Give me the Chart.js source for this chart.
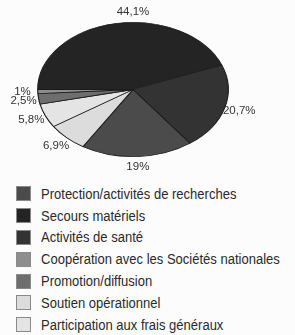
<!DOCTYPE html>
<html>
<head>
<meta charset="utf-8">
<script src="https://cdn.jsdelivr.net/npm/chart.js@4.4.1/dist/chart.umd.min.js"></script>
<style>
  html, body { margin: 0; padding: 0; background: #fcfcfc; }
  body { width: 295px; height: 335px; position: relative; overflow: hidden; }
  #pie { position: absolute; left: 0; top: 0; }
  #legend { position: absolute; left: 16px; top: 183px; margin: 0; padding: 0; list-style: none;
            font-family: "Liberation Sans", Arial, sans-serif;
            font-size: 14px; color: #2a2a2a; }
  #legend li { height: 21.8px; display: flex; align-items: center; white-space: nowrap; }
  #legend .sw { width: 15px; height: 15px; box-sizing: border-box; border: 1px solid #8a8a8a; margin-right: 10px; flex: none; }
  #legend .tx { display: inline-block; transform: scaleX(0.93); transform-origin: left center; }
</style>
</head>
<body>
<canvas id="pie" width="295" height="178"></canvas>
<ul id="legend"></ul>
<script>
// Categories in legend order
const categories = [
  "Protection/activités de recherches",
  "Secours matériels",
  "Activités de santé",
  "Coopération avec les Sociétés nationales",
  "Promotion/diffusion",
  "Soutien opérationnel",
  "Participation aux frais généraux"
];
// Share of expenditure (%), same order as categories
const shares = [19, 44.1, 20.7, 1, 2.5, 6.9, 5.8];
// Order of slices clockwise starting at 9 o'clock (indices into categories)
const pieOrder = [1, 2, 0, 5, 6, 4, 3];
// Fill colours (style), same order as categories
const colors = ["#4b4b4b", "#242424", "#333333", "#8e8e8e", "#6e6e6e", "#dcdcdc", "#e4e4e4"];

const SX = 1.42;          // horizontal stretch -> elliptical pie
const LABEL_FACTOR = 1.16;

function fmt(v) { return String(v).replace('.', ',') + '%'; }

const ellipsePlugin = {
  id: 'ellipse',
  beforeDatasetsDraw(chart) {
    const a = chart.getDatasetMeta(0).data[0];
    const ctx = chart.ctx;
    ctx.save();
    ctx.translate(a.x, a.y);
    ctx.scale(SX, 1);
    ctx.translate(-a.x, -a.y);
  },
  afterDatasetsDraw(chart) {
    const ctx = chart.ctx;
    ctx.restore();
    const meta = chart.getDatasetMeta(0);
    const vals = chart.data.datasets[0].data;
    ctx.save();
    ctx.font = '11.5px "Liberation Sans", Arial, sans-serif';
    ctx.fillStyle = '#333';
    ctx.textAlign = 'center';
    ctx.textBaseline = 'middle';
    const TWO = Math.PI * 2;
    meta.data.forEach((el, i) => {
      const p = el.getProps(['x', 'y', 'startAngle', 'endAngle', 'outerRadius'], true);
      let a = (p.startAngle + p.endAngle) / 2;
      // if the slice contains the top of the pie, anchor its label there
      let top = -Math.PI / 2;
      while (top < p.startAngle) top += TWO;
      if (top <= p.endAngle) a = top;
      const r = p.outerRadius * LABEL_FACTOR;
      const x = p.x + SX * r * Math.cos(a);
      const y = p.y + r * Math.sin(a);
      ctx.fillText(fmt(vals[i]), x, y);
    });
    ctx.restore();
  }
};

const ordered = pieOrder.map(i => shares[i]);
const orderedLabels = pieOrder.map(i => categories[i]);
const orderedColors = pieOrder.map(i => colors[i]);

new Chart(document.getElementById('pie'), {
  type: 'pie',
  data: {
    labels: orderedLabels,
    datasets: [{
      data: ordered,
      backgroundColor: orderedColors,
      borderColor: '#1c1c1c',
      borderWidth: 0.8
    }]
  },
  options: {
    responsive: false,
    devicePixelRatio: 1,
    animation: false,
    rotation: -90,
    layout: { padding: { left: 65.5, right: 94.5, top: 22, bottom: 21 } },
    plugins: { legend: { display: false }, tooltip: { enabled: false } }
  },
  plugins: [ellipsePlugin]
});

const ul = document.getElementById('legend');
categories.forEach((c, i) => {
  const li = document.createElement('li');
  const sw = document.createElement('span');
  sw.className = 'sw';
  sw.style.background = colors[i];
  li.appendChild(sw);
  const tx = document.createElement('span');
  tx.className = 'tx';
  tx.textContent = c;
  li.appendChild(tx);
  ul.appendChild(li);
});
</script>
</body>
</html>
